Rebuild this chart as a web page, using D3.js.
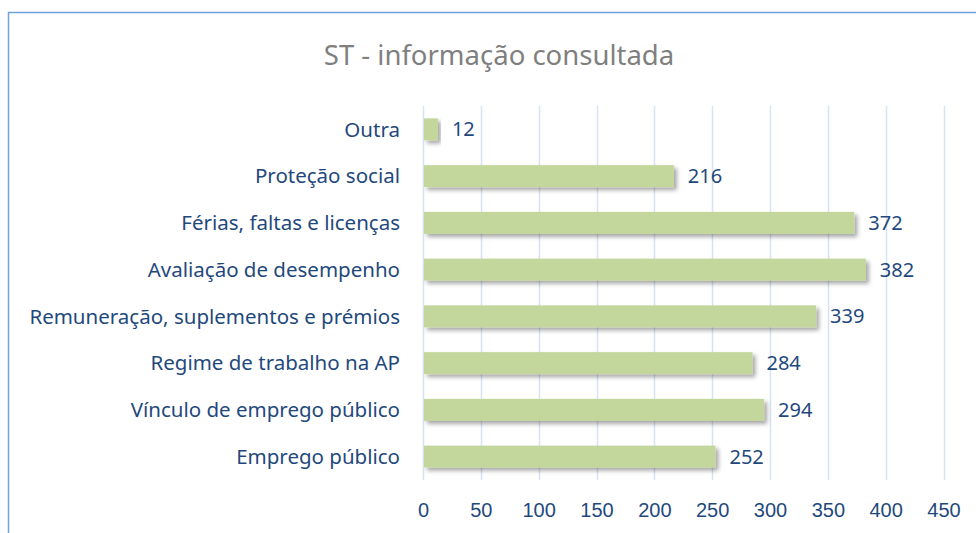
<!DOCTYPE html>
<html>
<head>
<meta charset="utf-8">
<script src="https://cdn.jsdelivr.net/npm/d3@7"></script>
<style>
  body { margin: 0; background: #fff; }
  svg { display: block; font-family: "Noto Sans", sans-serif; }
</style>
</head>
<body>
<svg id="chart" width="976" height="533"></svg>
<script>
const categories = ['Outra', 'Proteção social', 'Férias, faltas e licenças', 'Avaliação de desempenho',
  'Remuneração, suplementos e prémios', 'Regime de trabalho na AP', 'Vínculo de emprego público', 'Emprego público'];
const values = [12, 216, 372, 382, 339, 284, 294, 252];
const ticks = [0, 50, 100, 150, 200, 250, 300, 350, 400, 450];
const title = 'ST - informação consultada';

const svg = d3.select('#chart');
const width = +svg.attr('width');
const height = +svg.attr('height');
const margin = { top: 106, right: 32, bottom: 53, left: 423 };
const textColor = '#1f497d';

const defs = svg.append('defs');
const f = defs.append('filter').attr('id', 'shadow').attr('x', '-10%').attr('y', '-30%').attr('width', '130%').attr('height', '180%');
f.append('feDropShadow').attr('dx', 3).attr('dy', 3).attr('stdDeviation', 2)
  .attr('flood-color', '#000').attr('flood-opacity', 0.35);

// outer border, cut at right and bottom
svg.append('rect').attr('x', 8.5).attr('y', 12.5).attr('width', width).attr('height', height)
  .attr('fill', 'none').attr('stroke', '#6fa3dd').attr('stroke-width', 1.5);

svg.append('text').attr('x', 499).attr('y', 65).attr('text-anchor', 'middle')
  .attr('font-size', 27.5).attr('fill', '#7f7f7f').text(title);

const x = d3.scaleLinear().domain([0, 450]).range([margin.left, margin.left + 520.5]);
const y = d3.scaleBand().domain(categories).range([margin.top, height - margin.bottom]).paddingInner(0.53).paddingOuter(0.265);

svg.append('g').selectAll('line').data(ticks).join('line')
  .attr('x1', d => Math.round(x(d)) + 0.5).attr('x2', d => Math.round(x(d)) + 0.5)
  .attr('y1', margin.top).attr('y2', height - margin.bottom)
  .attr('stroke', '#d6e3f4').attr('stroke-width', 1.5);

const xAxis = svg.append('g').attr('transform', `translate(0,${height - margin.bottom})`)
  .call(d3.axisBottom(x).tickValues(ticks).tickSize(0).tickPadding(23));
xAxis.select('.domain').remove();
xAxis.selectAll('text').attr('font-size', 20).attr('fill', textColor).attr('font-family', null);

svg.append('g').selectAll('rect').data(values).join('rect')
  .attr('x', x(0) + 1).attr('y', (d, i) => y(categories[i]))
  .attr('width', d => x(d) - x(0)).attr('height', y.bandwidth())
  .attr('fill', '#c3d69b').attr('filter', 'url(#shadow)');

svg.append('g').selectAll('text').data(values).join('text')
  .attr('x', d => x(d) + 15).attr('y', (d, i) => y(categories[i]) + y.bandwidth() / 2)
  .attr('dy', '0.35em').attr('font-size', 20).attr('fill', textColor).text(d => d);

svg.append('g').selectAll('text').data(categories).join('text')
  .attr('x', 400).attr('y', d => y(d) + y.bandwidth() / 2).attr('dy', '0.35em')
  .attr('text-anchor', 'end').attr('font-size', 20.5).attr('fill', textColor).text(d => d);
</script>
</body>
</html>
